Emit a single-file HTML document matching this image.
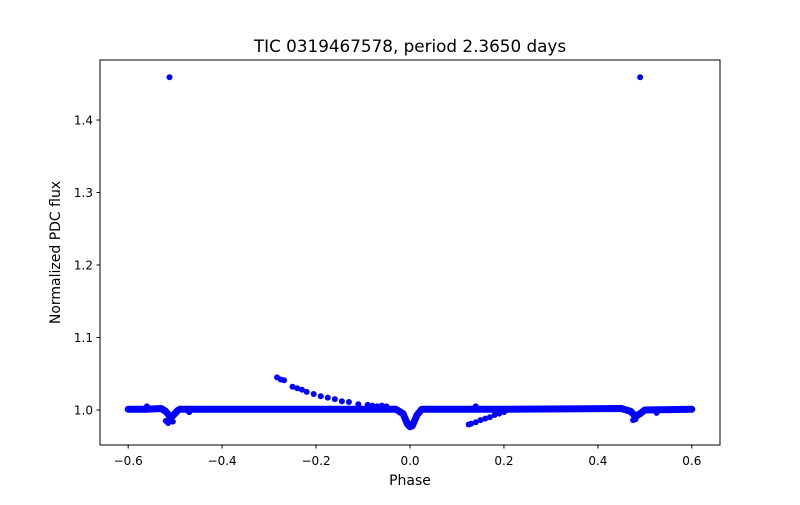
<!DOCTYPE html>
<html><head><meta charset="utf-8"><style>
body{margin:0;background:#fff;}
svg text{font-family:"DejaVu Sans","Liberation Sans",sans-serif;fill:#000;}
</style></head><body>
<svg id="chart" width="800" height="500" viewBox="0 0 800 500" xmlns="http://www.w3.org/2000/svg">
<rect width="800" height="500" fill="#fff"/>
<text x="410" y="52" font-size="16.8" text-anchor="middle">TIC 0319467578, period 2.3650 days</text>
<g id="marks"></g>
<rect x="100" y="60" width="620" height="385" fill="none" stroke="#000" stroke-width="1"/>
<g id="ticks"></g>
<text x="410" y="485" font-size="14" text-anchor="middle">Phase</text>
<text transform="translate(60,252.5) rotate(-90)" font-size="14" text-anchor="middle">Normalized PDC flux</text>
</svg>
<script>
const basePhase=[-0.6,-0.56,-0.53,-0.52,-0.51,-0.505,-0.495,-0.49,-0.3,-0.03,-0.015,-0.005,0,0.005,0.015,0.025,0.2,0.45,0.47,0.48,0.49,0.5,0.6];
const baseFlux=[1.001,1.001,1.002,0.998,0.990,0.992,0.999,1.001,1.001,1.001,0.995,0.980,0.977,0.978,0.993,1.001,1.001,1.002,0.998,0.991,0.995,1.000,1.001];
const trendPhase=[-0.283,-0.275,-0.268,-0.25,-0.24,-0.23,-0.22,-0.205,-0.19,-0.175,-0.16,-0.145,-0.13,-0.11,-0.09,-0.08,-0.07,-0.06,-0.05,0.125,0.13,0.14,0.15,0.16,0.17,0.18,0.19,0.2,-0.52,-0.515,-0.505,-0.47,0.475,0.48,0.525,0.14,-0.56,-0.512,0.49];
const trendFlux=[1.045,1.042,1.041,1.032,1.030,1.028,1.025,1.022,1.019,1.017,1.015,1.012,1.011,1.008,1.007,1.006,1.005,1.006,1.005,0.980,0.981,0.983,0.986,0.988,0.990,0.993,0.995,0.997,0.985,0.982,0.984,0.997,0.986,0.987,0.996,1.005,1.005,1.459,1.459];
const xTicks=[-0.6,-0.4,-0.2,0.0,0.2,0.4,0.6];
const xTickLabels=["\u22120.6","\u22120.4","\u22120.2","0.0","0.2","0.4","0.6"];
const yTicks=[1.0,1.1,1.2,1.3,1.4];
const yTickLabels=["1.0","1.1","1.2","1.3","1.4"];
const NS="http://www.w3.org/2000/svg";
const xMin=-0.66,xMax=0.66,yMin=0.9517,yMax=1.4828;
function xs(v){return 100+(v-xMin)/(xMax-xMin)*620;}
function ys(v){return 445-(v-yMin)/(yMax-yMin)*385;}
const marks=document.getElementById('marks');
let d='';
for(let i=0;i<basePhase.length;i++){d+=(i?'L':'M')+xs(basePhase[i]).toFixed(1)+' '+ys(baseFlux[i]).toFixed(1);}
const p=document.createElementNS(NS,'path');
p.setAttribute('d',d);p.setAttribute('fill','none');p.setAttribute('stroke','#0000ff');p.setAttribute('stroke-width','7');p.setAttribute('stroke-linejoin','round');p.setAttribute('stroke-linecap','round');


marks.appendChild(p);
for(let i=0;i<trendPhase.length;i++){
const c=document.createElementNS(NS,'circle');
c.setAttribute('cx',xs(trendPhase[i]));c.setAttribute('cy',ys(trendFlux[i]));c.setAttribute('r','3');c.setAttribute('fill','#0000ff');


marks.appendChild(c);}
const tk=document.getElementById('ticks');
xTicks.forEach((v,i)=>{
const x=xs(v);
const l=document.createElementNS(NS,'line');
l.setAttribute('x1',x);l.setAttribute('x2',x);l.setAttribute('y1',445);l.setAttribute('y2',448.5);l.setAttribute('stroke','#000');


tk.appendChild(l);
const t=document.createElementNS(NS,'text');
t.setAttribute('x',x);t.setAttribute('y',465);t.setAttribute('font-size','12');t.setAttribute('text-anchor','middle');t.textContent=xTickLabels[i];


tk.appendChild(t);});
yTicks.forEach((v,i)=>{
const y=ys(v);
const l=document.createElementNS(NS,'line');
l.setAttribute('x1',96.5);l.setAttribute('x2',100);l.setAttribute('y1',y);l.setAttribute('y2',y);l.setAttribute('stroke','#000');


tk.appendChild(l);
const t=document.createElementNS(NS,'text');
t.setAttribute('x',93);t.setAttribute('y',y+4.5);t.setAttribute('font-size','12');t.setAttribute('text-anchor','end');t.textContent=yTickLabels[i];


tk.appendChild(t);});
</script>
</body></html>
